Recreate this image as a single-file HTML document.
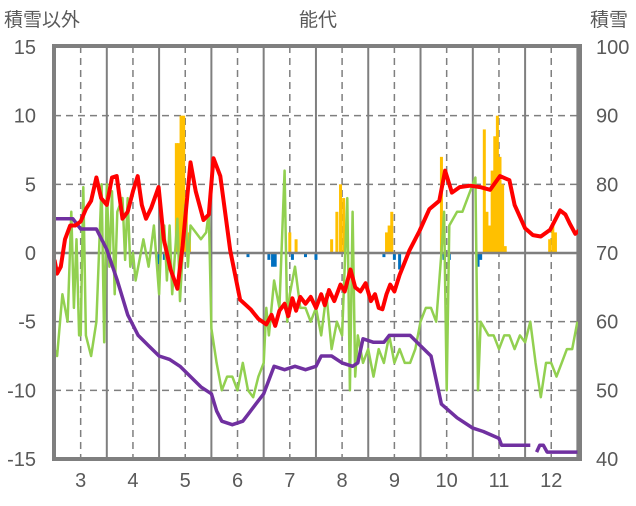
<!DOCTYPE html>
<html><head><meta charset="utf-8">
<style>
body{margin:0;background:#fff;}
svg text{font-family:"Liberation Sans","Noto Sans CJK JP",sans-serif;fill:#595959;}
</style></head>
<body>
<svg id="chart" width="636" height="501" xmlns="http://www.w3.org/2000/svg">
<text x="318" y="26" font-size="19" text-anchor="middle">能代</text>
<text x="4" y="26" font-size="19">積雪以外</text>
<text x="590" y="26" font-size="19">積雪</text>
<g id="grid"></g><g id="bars"></g><g id="lines"></g><g id="axes"></g>
</svg>
<script>
const monthTicks=[3,4,5,6,7,8,9,10,11,12];
const leftTicks=[15,10,5,0,-5,-10,-15];
const rightTicks=[100,90,80,70,60,50,40];
const redX=[2.5,2.55,2.62,2.7,2.8,2.9,3.0,3.1,3.2,3.3,3.39,3.5,3.6,3.69,3.8,3.9,4.0,4.09,4.17,4.25,4.35,4.49,4.59,4.72,4.85,4.95,5.1,5.2,5.35,5.45,5.54,5.67,5.86,6.05,6.25,6.4,6.55,6.65,6.72,6.8,6.9,6.97,7.05,7.12,7.2,7.3,7.4,7.5,7.6,7.67,7.75,7.85,7.97,8.05,8.16,8.25,8.35,8.45,8.55,8.63,8.7,8.77,8.85,8.92,9.0,9.1,9.29,9.48,9.67,9.86,9.97,10.1,10.25,10.45,10.64,10.83,11.02,11.2,11.3,11.5,11.65,11.8,11.98,12.17,12.27,12.36,12.46,12.55];
const redY=[-0.5,-1.5,-1,1,2,2,2.3,3.2,3.8,5.5,4,3.5,5.5,5.6,2.5,3,4.5,5.6,3.5,2.5,3.3,4.8,1,-1.2,-2.6,0.5,6.6,4.5,2.4,2.8,6.9,5.6,0.2,-3.4,-4.1,-4.8,-5.2,-4.5,-5.3,-4.2,-3.7,-4.6,-3.3,-4.2,-3.2,-3.7,-3.2,-4,-3,-3.8,-2.7,-3.5,-2.3,-2.8,-1.2,-2.5,-2.8,-2.2,-3.5,-3,-4,-4.1,-3,-2.3,-2.8,-1.6,0.2,1.6,3.2,3.8,6,4.4,4.8,4.9,4.8,4.6,5.6,5.3,3.5,1.8,1.3,1.2,1.7,3.1,2.8,2.1,1.4,1.7];
const greenX=[2.5,2.55,2.65,2.75,2.82,2.87,2.92,2.97,3.0,3.05,3.1,3.2,3.3,3.4,3.45,3.5,3.55,3.6,3.65,3.7,3.8,3.85,3.9,3.95,4.0,4.05,4.2,4.3,4.4,4.5,4.55,4.6,4.65,4.7,4.75,4.85,4.9,5.0,5.05,5.1,5.2,5.3,5.4,5.45,5.5,5.6,5.7,5.8,5.9,6.0,6.1,6.2,6.3,6.4,6.5,6.55,6.6,6.7,6.8,6.9,6.95,7.0,7.1,7.2,7.3,7.4,7.5,7.6,7.7,7.8,7.9,8.0,8.1,8.15,8.2,8.25,8.3,8.4,8.5,8.6,8.7,8.8,8.9,9.0,9.1,9.2,9.3,9.4,9.5,9.6,9.7,9.8,9.9,9.95,10.0,10.05,10.2,10.3,10.4,10.5,10.55,10.6,10.65,10.8,10.9,11.0,11.1,11.2,11.3,11.4,11.5,11.6,11.7,11.8,11.9,12.0,12.1,12.2,12.3,12.4,12.5];
const greenY=[-7,-7.5,-3,-5,3,-4,1,-6,-6,4.8,-6,-7.5,-5,5,-6.5,5,-1,4.5,-3,3,4,-0.5,4,-1,0,-2,1,-1,2,-3,2,2,-2,2,-3,2.5,-3.5,3.5,-1,2,1.5,1,1.5,3,-5.5,-8,-10,-9,-9,-10,-8,-10,-10.5,-9,-8,-4,-6,-2,-4,6,-5,-3,-1,-4,-4,-5,-4,-6,-3,-7,-5,-6,4,-10,3,-9,-6,-8,-7,-9,-7,-8,-6,-8,-7,-8,-8,-7,-5,-4,-4,-5,0,3,-10,2,3,3,4,5,5.5,-10,-5,-6,-6,-7,-6,-6,-7,-6,-6.5,-5,-8,-10.5,-8,-8,-9,-8,-7,-7,-5];
const snowX=[2.5,2.85,2.9,3.0,3.3,3.5,3.7,3.9,4.1,4.3,4.5,4.7,4.9,5.1,5.3,5.5,5.6,5.7,5.9,6.1,6.2,6.35,6.5,6.6,6.7,6.9,7.1,7.3,7.5,7.6,7.8,8.0,8.2,8.3,8.4,8.6,8.8,8.9,9.3,9.5,9.7,9.9,10.2,10.5,10.7,11.0,11.05,11.6];
const snowY=[75,75,74.5,73.5,73.5,70.5,66,61,58,56.5,55,54.5,53.5,52,50.5,49.5,47,45.5,45,45.5,46.5,48,49.5,51.5,53.5,53,53.5,53,53.5,55,55,54,53.5,54,57.5,57,57,58,58,56.5,55,48,46,44.5,44,43,42,42];
const snow2X=[11.72,11.78,11.85,11.92,12.5];
const snow2Y=[41,42,42,41,41];
const barX=[4.5,4.6,4.83,4.87,4.92,4.97,5.02,5.08,6.2,6.6,6.67,6.72,7.0,7.05,7.12,7.3,7.5,7.8,7.9,7.97,8.03,8.8,8.85,8.9,8.95,9.0,9.1,9.9,9.95,10.05,10.6,10.65,10.72,10.77,10.82,10.87,10.92,10.97,11.02,11.07,11.12,11.97,12.03,12.08];
const barY=[-0.8,-0.5,8,8,10,10,4,1.5,-0.3,-0.5,-1,-1,1.5,-0.5,1,-0.3,-0.5,1,3,5,4,-0.3,1.5,2,3,-0.5,-1.2,7,-0.5,-0.5,-1,-0.5,9,3,2,6,8.5,10,7,5,0.5,1,2,1.5];

const L=54,R=580,T=46,B=459;
const xs=m=>L+(m-2.49)/(12.55-2.49)*(R-L);
const yl=v=>253-v*(B-253)/15;
const yr=v=>yl((v-70)/2);
const NS="http://www.w3.org/2000/svg";
function mk(parent,tag,attrs){const e=document.createElementNS(NS,tag);for(const k in attrs)e.setAttribute(k,attrs[k]);document.getElementById(parent).appendChild(e);return e;}

for(const v of leftTicks){ if(v===15||v===-15||v===0) continue;
  const g=mk('grid','line',{x1:L,x2:R,y1:yl(v),y2:yl(v),stroke:'#7f7f7f','stroke-width':1.5,'stroke-dasharray':'7,5'});
  
  
}
for(const m of monthTicks){
  const g=mk('grid','line',{x1:xs(m),x2:xs(m),y1:T,y2:B,stroke:'#7f7f7f','stroke-width':1.5,'stroke-dasharray':'7,5'});
  
  
  const s=mk('grid','line',{x1:xs(m+0.5),x2:xs(m+0.5),y1:T,y2:B,stroke:'#7f7f7f','stroke-width':2});
  
  
}
for(let i=0;i<barX.length;i++){
  const v=barY[i];const y0=yl(0),y1=yl(v);
  const r=mk('bars','rect',{x:xs(barX[i])-1.5,width:3,y:Math.min(y0,y1),height:Math.abs(y1-y0),fill:v>0?'#ffc000':'#0070c0'});
  
  
}
const z=mk('bars','line',{x1:L,x2:R,y1:yl(0),y2:yl(0),stroke:'#7f7f7f','stroke-width':2.5});


function line(X,Y,fy,col,w,name){
  const p=mk('lines','polyline',{points:X.map((x,i)=>xs(x).toFixed(1)+','+fy(Y[i]).toFixed(1)).join(' '),fill:'none',stroke:col,'stroke-width':w,'stroke-linejoin':'round'});
  
  
}
line(greenX,greenY,yl,'#92d050',2.5,'green-series-line');
line(snowX,snowY,yr,'#7030a0',3.5,'snow-depth-line');
line(snow2X,snow2Y,yr,'#7030a0',3.5,'snow-depth-line-late');
line(redX,redY,yl,'#ff0000',4,'temperature-line');
const f=mk('axes','rect',{x:L,y:T,width:R-L,height:B-T,fill:'none',stroke:'#7f7f7f','stroke-width':4});


for(const v of leftTicks){
  const t=mk('axes','text',{x:36,y:yl(v)+7,'font-size':20,'text-anchor':'end'});t.textContent=v;
  
  
}
for(const v of rightTicks){
  const t=mk('axes','text',{x:596,y:yr(v)+7,'font-size':20});t.textContent=v;
  
  
}
for(const m of monthTicks){
  const t=mk('axes','text',{x:xs(m),y:487,'font-size':20,'text-anchor':'middle'});t.textContent=m;
  
  
}
</script>
</body></html>
